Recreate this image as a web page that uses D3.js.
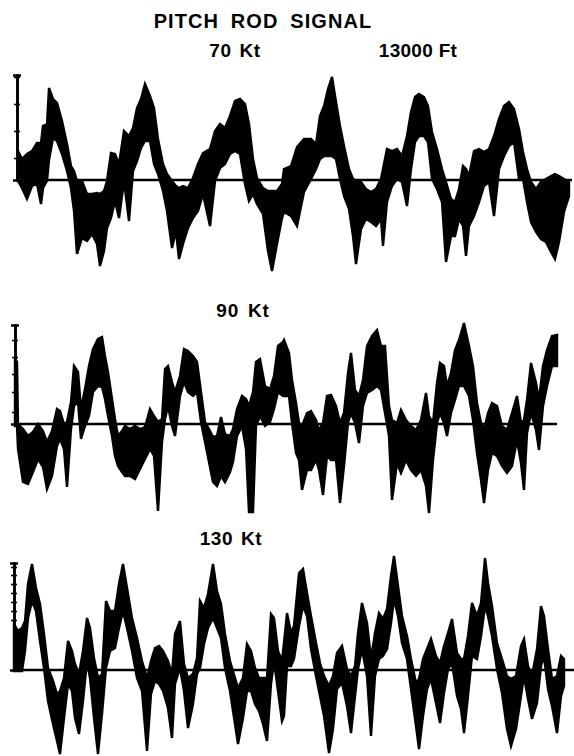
<!DOCTYPE html>
<html><head><meta charset="utf-8">
<script src="https://cdn.jsdelivr.net/npm/d3@7"></script>
<style>html,body{margin:0;padding:0;background:#fff;}svg{display:block;}</style>
</head><body>
<script>
// ---- DATA (time in sample units from start of record; amplitude in % of full scale, upper/lower trace envelope) ----
const title = "PITCH ROD SIGNAL";
const altitudeLabel = "13000 Ft";
const speedLabels = ["70 Kt", "90 Kt", "130 Kt"];

const time70 = [1,5,10,15,20,24,26,30,32,36,40,45,50,54,57,60,65,70,75,80,83,87,90,94,98,102,107,112,116,120,124,128,133,137,141,146,150,155,159,162,166,171,176,181,186,193,198,203,208,213,218,223,228,232,236,240,246,251,255,260,265,267,274,280,287,294,299,303,307,311,315,319,323,327,332,336,339,344,349,354,359,364,366,370,375,380,385,390,394,398,402,407,411,415,420,425,429,434,438,442,446,449,452,457,462,467,472,477,482,487,492,497,502,506,510,514,519,524,529,534,538,542,547,552];
const upper70 = [29,21,26,29,37,37,54,56,92,81,77,59,36,14,9,-1,-1,-14,-14,-13,-14,-11,-1,27,26,16,49,44,52,72,81,96,84,72,41,16,6,-1,-6,-8,-6,-8,2,16,27,31,49,56,52,64,79,81,76,56,21,2,-8,-11,-11,-11,-4,11,14,33,41,41,36,64,74,91,103,78,54,34,11,1,-1,-2,-9,-12,-9,1,11,31,29,31,24,44,68,83,86,83,74,48,31,11,-2,-19,-22,-9,14,11,4,29,31,28,31,44,61,74,78,71,51,28,11,-2,-9,-2,1,4,6,4,1,-2];
const lower70 = [-1,-8,-19,-6,-4,-24,-8,-1,20,42,39,26,9,-8,-31,-74,-58,-61,-54,-64,-86,-71,-48,-38,-21,-38,-1,-41,9,19,32,39,39,16,6,-11,-31,-68,-51,-79,-64,-48,-38,-31,-14,-46,-1,12,16,26,29,26,-4,-21,-14,-24,-34,-71,-91,-64,-38,-32,-36,-46,-12,1,11,21,24,24,24,21,1,-16,-29,-56,-84,-49,-39,-42,-46,-39,-66,-22,-6,1,-2,-26,11,38,44,44,38,1,-9,-22,-82,-56,-56,-39,-46,-76,-46,-36,-22,-6,-2,-36,11,24,34,38,1,1,-22,-42,-52,-59,-62,-72,-79,-62,-32,-16];
const ticks70 = [22,49,76,103];

const time90 = [0,2,3,8,13,18,23,28,32,37,42,45,49,52,56,59,63,66,70,74,78,83,87,90,93,97,100,103,107,110,115,120,125,130,135,139,143,147,150,153,157,160,165,169,173,178,182,186,190,194,198,202,206,210,215,218,222,227,231,234,238,241,245,250,255,259,263,268,269,274,277,281,284,287,292,296,301,304,308,312,316,321,325,329,333,336,340,344,348,352,357,362,366,370,374,377,382,386,391,396,401,406,411,414,418,422,425,429,432,436,440,444,449,454,458,462,466,469,473,477,482,487,492,497,502,506,509,512,516,521,524,528,532,537,542];
const upper90 = [66,62,0,-5,-12,-8,0,-7,-18,-7,15,13,0,2,22,58,52,15,35,58,75,85,87,68,52,25,5,-12,-7,-2,-5,-2,-5,-3,15,8,2,5,55,58,42,32,48,75,73,68,62,32,2,-5,-13,-12,7,-10,-12,-5,15,28,25,18,32,62,65,38,35,48,78,82,84,71,44,21,1,-2,11,13,4,-6,1,28,29,18,1,11,51,71,34,28,44,78,88,94,78,78,18,4,1,14,4,-2,-6,4,31,8,1,41,61,58,38,51,74,84,101,78,58,21,1,-6,11,21,18,-2,-6,11,28,1,4,24,61,41,24,58,74,88,89];
const lower90 = [-2,-2,-25,-58,-60,-48,-35,-43,-65,-52,-22,-15,-25,-63,-5,18,22,-15,-2,8,32,38,37,25,8,-12,-32,-42,-48,-52,-52,-55,-45,-35,-25,-32,-87,-18,5,18,-2,-12,28,42,32,28,32,2,-18,-38,-58,-62,-52,-58,-48,-38,-12,-2,-25,-88,-88,-2,8,-2,2,15,32,28,28,28,1,-29,-36,-66,-46,-46,-36,-46,-71,-32,-36,-36,-79,-42,1,11,1,-19,18,31,34,38,34,11,-12,-76,-39,-49,-36,-46,-52,-46,-62,-89,-36,1,11,1,-12,11,24,38,38,28,4,-29,-56,-79,-46,-29,-32,-42,-49,-42,-16,-39,-66,-9,11,-6,-26,18,38,58,58];
const ticks90 = [12,32,50,67,84];

const time130 = [0,4,8,11,14,18,22,26,30,34,39,43,46,50,54,58,61,65,69,73,76,80,84,88,92,96,101,105,109,113,118,123,128,133,137,141,145,149,154,158,161,166,170,174,179,183,186,190,194,199,203,207,211,216,221,224,229,233,237,241,245,249,253,257,260,264,268,270,273,277,280,285,289,293,297,302,306,310,315,319,323,328,333,337,341,344,348,353,357,361,365,369,373,377,380,384,388,393,397,402,405,409,413,417,422,426,430,434,438,443,447,450,454,458,463,467,471,474,478,483,488,493,497,502,507,510,514,518,523,527,530,534,538,543,547,550];
const upper130 = [46,39,42,49,86,106,82,66,36,2,-11,-24,-21,-8,29,19,6,-4,19,52,42,12,-8,-4,69,59,59,86,106,82,52,32,9,-8,9,22,24,19,9,-4,36,49,6,-8,-4,12,69,62,76,106,79,66,36,9,-8,-18,-8,26,19,2,-8,-8,-8,56,52,19,9,27,57,37,44,97,101,77,54,27,7,-6,-16,-6,17,24,1,-6,4,37,67,47,11,37,57,51,61,94,114,84,54,34,11,-13,-9,11,21,31,14,7,24,37,51,17,11,11,34,67,54,67,112,87,64,27,11,-6,-9,-6,24,31,4,-6,21,64,54,21,-9,-6,14,11];
const lower130 = [-1,-1,-1,19,52,69,59,29,2,-31,-54,-71,-84,-48,-14,-21,-48,-64,-31,9,-8,-48,-84,-44,2,19,22,42,59,42,19,-8,-21,-81,-24,-11,-14,-21,-38,-68,-14,2,-21,-58,-34,-4,2,26,42,52,42,32,2,-21,-54,-74,-48,-21,-21,-34,-41,-54,-71,-14,9,-21,-51,-46,4,4,11,44,64,54,21,-6,-26,-46,-83,-59,-19,-13,-36,-63,-26,1,21,-6,-66,-6,11,14,21,47,71,54,27,11,-19,-56,-79,-46,-19,-9,-33,-53,-23,1,7,-26,-39,-63,-26,14,11,34,64,54,34,1,-23,-59,-76,-59,-26,-6,-29,-49,-33,4,14,-19,-36,-63,-26,-16];
const ticks130 = [50,59,68,77,86,95,103];

// ---- LAYOUT ----
const W = 574, H = 756;
const svg = d3.select("body").append("svg").attr("width", W).attr("height", H);
svg.append("rect").attr("width", W).attr("height", H).attr("fill", "#fff");

const font = "'Liberation Sans', Arial, Helvetica, sans-serif";

const panels = [
  {t: time70, hi: upper70, lo: lower70, ticks: ticks70, span: 555, left: 17, right: 572, zero: 180, top: 105, lineLeft: 17},
  {t: time90, hi: upper90, lo: lower90, ticks: ticks90, span: 542, left: 15, right: 557, zero: 424, top: 99, lineLeft: 15},
  {t: time130, hi: upper130, lo: lower130, ticks: ticks130, span: 560, left: 14, right: 574, zero: 670, top: 107, lineLeft: 13}
];

panels.forEach((p, i) => {
  const x = d3.scaleLinear().domain([0, p.span]).range([p.left, p.right]);
  const y = d3.scaleLinear().domain([0, 100]).range([p.zero, p.zero - 100]);
  const g = svg.append("g");
  const rows = p.t.map((t, k) => ({t, hi: p.hi[k], lo: p.lo[k]}));

  // zero line
  g.append("line")
    .attr("x1", p.lineLeft).attr("x2", x(p.span))
    .attr("y1", y(0)).attr("y2", y(0))
    .attr("stroke", "#000").attr("stroke-width", 2.4);

  // y axis with crossing ticks
  const ya = d3.scaleLinear().domain([0, p.top]).range([y(0), y(p.top)]);
  const axL = g.append("g").attr("transform", `translate(${p.left},0)`)
    .call(d3.axisLeft(ya).tickValues(p.ticks).tickSize(3).tickSizeOuter(4).tickFormat(""));
  const axR = g.append("g").attr("transform", `translate(${p.left},0)`)
    .call(d3.axisRight(ya).tickValues(p.ticks).tickSize(3).tickSizeOuter(4).tickFormat(""));
  [axL, axR].forEach(a => {
    a.select(".domain").attr("stroke", "#000").attr("stroke-width", 2.6);
    a.selectAll(".tick line").attr("stroke", "#000").attr("stroke-width", 1.6);
  });

  // trace envelope
  const area = d3.area().x(d => x(d.t)).y0(d => y(d.lo)).y1(d => y(d.hi)).curve(d3.curveLinear);
  g.append("path").datum(rows).attr("d", area)
    .attr("fill", "#000").attr("stroke", "#000").attr("stroke-width", 2.4).attr("stroke-linejoin", "miter");
});

// texts
const txt = (s, x, yy, size) => svg.append("text").text(s).attr("x", x).attr("y", yy)
  .attr("text-anchor", "middle").attr("font-family", font).attr("font-weight", "bold")
  .attr("font-size", size).attr("fill", "#000");
txt(title, 263, 28, 20).attr("letter-spacing", 1.1).attr("word-spacing", 5);
txt(speedLabels[0], 235, 57, 19).attr("letter-spacing", 0.6).attr("word-spacing", 2);
txt(altitudeLabel, 418, 57, 19).attr("letter-spacing", 0.3);
txt(speedLabels[1], 243, 317, 19).attr("letter-spacing", 0.8).attr("word-spacing", 3);
txt(speedLabels[2], 231, 545, 19).attr("letter-spacing", 0.6).attr("word-spacing", 2);
</script>
</body></html>
